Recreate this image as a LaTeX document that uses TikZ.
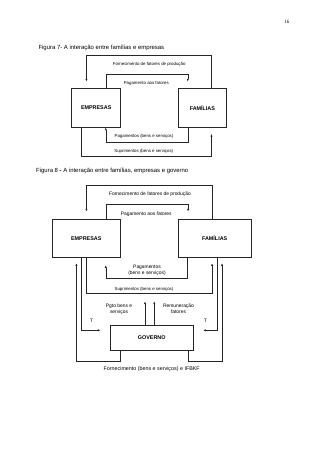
\documentclass[tikz,border=0pt]{standalone}
\usepackage{fontspec}
\setmainfont{Liberation Sans}
\newfontfamily\pgserif{Liberation Serif}
\usetikzlibrary{arrows.meta}
\tikzset{
  box/.style={draw=black!85, line width=0.5pt, inner sep=0pt, font=\bfseries\fontsize{5.4}{6}\selectfont},
  conn/.style={draw=black!85, line width=0.5pt},
  arr/.style={conn, -{Latex[length=2.6pt,width=2.2pt]}},
  lab/.style={inner sep=0pt, font=\fontsize{4.35}{5}\selectfont},
  labm/.style={inner sep=0pt, font=\fontsize{4.9}{5.6}\selectfont, align=center},
  capt/.style={inner sep=0pt, anchor=west, font=\fontsize{5.95}{7}\selectfont}
}
\begin{document}
\begin{tikzpicture}[x=1pt,y=-1pt]
\useasboundingbox (0,0) rectangle (320,453);
\node[inner sep=0pt, anchor=east, font=\pgserif\fontsize{5}{6}\selectfont] (pg) at (289.5,22.3) {16};

% ---------------- Figure 7 ----------------
\node[capt] (cap7) at (38.3,48) {Figura 7- A interação entre famílias e empresas};
\node[box, minimum width=49pt, minimum height=39pt] (emp7) at (96.2,107.8) {EMPRESAS};
\node[box, minimum width=48.7pt, minimum height=39pt] (fam7) at (202.35,107.8) {FAMÍLIAS};

\draw[arr] ([xshift=33.7pt]fam7.north west) -- ++(0,-33.3) -| ([xshift=15pt,yshift=6.6pt]emp7.north west);
\draw[arr] ([xshift=34.3pt]emp7.north west) -- ++(0,-14.3) -| ([xshift=10pt,yshift=6.6pt]fam7.north west);
\draw[arr] ([xshift=10pt]fam7.south west) -- ++(0,14.4) -| ([xshift=34.3pt]emp7.south west);
\draw[arr] ([xshift=10pt]emp7.south west) -- ++(0,28.7) -| ([xshift=33.7pt,yshift=-6.4pt]fam7.south west);

\node[lab] (l7a) at (149.2,64) {Fornecimento de fatores de produção};
\node[lab] (l7b) at (146.3,83) {Pagamento aos fatores};
\node[lab] (l7c) at (144,136) {Pagamentos (bens e serviços)};
\node[lab] (l7d) at (143.8,151) {Suprimentos (bens e serviços)};

% ---------------- Figure 8 ----------------
\node[capt] (cap8) at (36,171) {Figura 8 {\bfseries -} A interação entre famílias, empresas e governo};
\node[box, minimum width=68pt, minimum height=38.3pt] (emp8) at (86.3,238.15) {EMPRESAS};
\node[box, minimum width=72.7pt, minimum height=38.3pt] (fam8) at (214.65,238.15) {FAMÍLIAS};
\node[box, minimum width=82.5pt, minimum height=25pt] (gov) at (151.75,338) {GOVERNO};

\draw[arr] ([xshift=34pt]fam8.north west) -- ++(0,-33.3) -| ([xshift=34.4pt,yshift=7.3pt]emp8.north west);
\draw[arr] ([xshift=53.7pt]emp8.north west) -- ++(0,-14.7) -| ([xshift=10pt,yshift=7.3pt]fam8.north west);
\draw[arr] ([xshift=9.4pt]fam8.south west) -- ++(0,21) -| ([xshift=53.7pt,yshift=-7.7pt]emp8.south west);
\draw[arr] ([xshift=34.4pt]emp8.south west) -- ++(0,36) -| ([xshift=34pt,yshift=-5.7pt]fam8.south west);
\draw[arr] ([xshift=29.4pt]emp8.south west) |- ([xshift=-9.8pt,yshift=7.7pt]gov.west);
\draw[arr] ([xshift=39pt]fam8.south west) |- ([xshift=10pt,yshift=7.7pt]gov.east);
\draw[arr] ([xshift=-6.75pt]gov.north) -- ++(0,-23.8);
\draw[arr] ([xshift=2.55pt]gov.north) -- ++(0,-23.8);
\draw[arr] ([xshift=9.8pt]gov.south west) -- ++(0,10.5) -| ([xshift=24.4pt,yshift=-5.7pt]emp8.south west);
\draw[arr] ([xshift=-5.3pt]gov.south east) -- ++(0,10.5) -| ([xshift=44pt,yshift=-5.7pt]fam8.south west);

\node[labm] (l8a) at (150,194.3) {Fornecimento de fatores de produção};
\node[labm] (l8b) at (146.3,214) {Pagamento aos fatores};
\node[labm] (l8c) at (147,270.4) {Pagamentos\\(bens e serviços)};
\node[lab] (l8d) at (144,289) {Suprimentos (bens e serviços)};
\node[labm] (l8e) at (119,309) {Pgto bens e\\serviços};
\node[labm] (l8f) at (178.5,309) {Remuneração\\fatores};
\node[labm] (t1) at (91.7,321) {T};
\node[labm] (t2) at (205.7,321) {T};
\node[inner sep=0pt, font=\fontsize{5.35}{6}\selectfont] (l8g) at (151.7,369.3) {Fornecimento (bens e serviços) e IFBKF};
\end{tikzpicture}
\end{document}
